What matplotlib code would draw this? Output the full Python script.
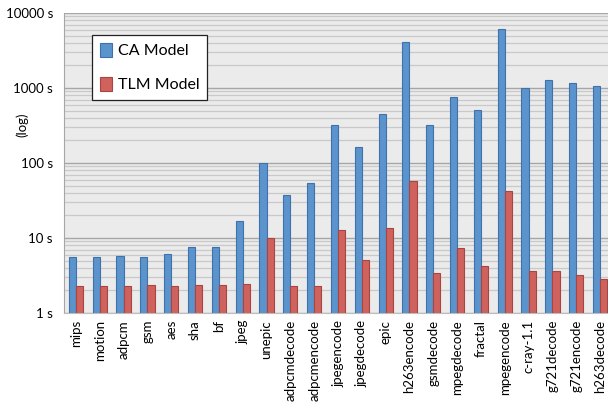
import numpy as np
import matplotlib.pyplot as plt
from matplotlib.ticker import LogLocator, NullFormatter, FixedLocator

plt.rcParams['font.family'] = ['Lato', 'DejaVu Sans']

benchmarks = ['mips', 'motion', 'adpcm', 'gsm', 'aes', 'sha', 'bf', 'jpeg', 'unepic',
              'adpcmdecode', 'adpcmencode', 'jpegencode', 'jpegdecode', 'epic',
              'h263encode', 'gsmdecode', 'mpegdecode', 'fractal', 'mpegencode',
              'c-ray-1.1', 'g721decode', 'g721encode', 'h263decode']

ca_times = [5.6, 5.6, 5.8, 5.6, 6.1, 7.6, 7.6, 16.7, 100, 37, 53.6, 321, 162, 446,
            4100, 321, 760, 504, 6050, 1000, 1280, 1150, 1050]

tlm_times = [2.29, 2.29, 2.29, 2.36, 2.29, 2.36, 2.36, 2.46, 10.1, 2.29, 2.29, 12.7,
             5.04, 13.6, 57.5, 3.38, 7.43, 4.27, 42.8, 3.59, 3.59, 3.18, 2.81]

y_ticks = [1, 10, 100, 1000, 10000]
y_labels = ['1 s', '10 s', '100 s', '1000 s', '10000 s']

fig = plt.figure(figsize=(6.08, 4.05), dpi=100)
ax = fig.add_axes([64 / 608, 92 / 405, 548 / 608, 300 / 405])
ax.set_facecolor('#ebebeb')

x = np.arange(len(benchmarks))
w = 0.3
ax.bar(x - w / 2, ca_times, w, color='#5b93cd', edgecolor='#3f72ab', linewidth=0.8,
       label='CA Model', zorder=3)
ax.bar(x + w / 2, tlm_times, w, color='#cf625d', edgecolor='#a84542', linewidth=0.8,
       label='TLM Model', zorder=3)

ax.set_yscale('log')
ax.set_ylim(1, 10000)
ax.set_xlim(-0.5, len(benchmarks) - 0.5)
ax.yaxis.set_major_locator(FixedLocator(y_ticks))
ax.set_yticklabels(y_labels, fontsize=9.5)
ax.yaxis.set_minor_locator(LogLocator(base=10, subs=np.arange(2, 10)))
ax.yaxis.set_minor_formatter(NullFormatter())
ax.grid(which='major', axis='y', color='#a6a6a6', linewidth=1.0, zorder=1)
ax.grid(which='minor', axis='y', color='#c9c9c9', linewidth=0.9, zorder=1)
ax.tick_params(axis='y', which='both', length=0, pad=8)
ax.tick_params(axis='x', length=0, pad=5)

ax.set_xticks(x)
ax.set_xticklabels(benchmarks, rotation=90, fontsize=9.5)

for side in ['top', 'right']:
    ax.spines[side].set_visible(False)
ax.spines['left'].set_color('#a6a6a6')
ax.spines['bottom'].set_color('#bdbdbd')

fig.text(22 / 608, 1 - 125 / 405, '(log)', rotation=90, fontsize=9.5,
         ha='center', va='center')

leg = ax.legend(loc='upper left', bbox_to_anchor=(28 / 548, 1 - 22 / 300),
                fontsize=11.5, frameon=True, fancybox=False, handlelength=0.75,
                handleheight=0.95, handletextpad=0.35, labelspacing=1.15,
                borderpad=0.5, borderaxespad=0)
leg.get_frame().set_edgecolor('#222222')
leg.get_frame().set_linewidth(0.9)
leg.get_frame().set_facecolor('white')
leg.get_frame().set_alpha(1)

fig.savefig('out.png', dpi=100)
